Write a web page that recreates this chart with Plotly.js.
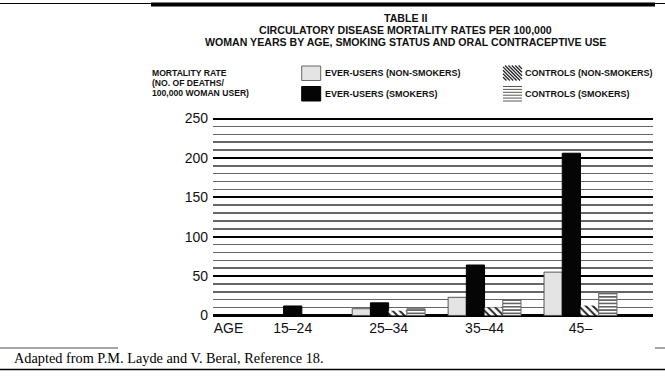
<!DOCTYPE html>
<html>
<head>
<meta charset="utf-8">
<script src="https://cdn.plot.ly/plotly-3.0.1.min.js"></script>
<style>html,body{margin:0;padding:0;background:#fff;}#chart{width:665px;height:376px;}</style>
</head>
<body>
<div id="chart"></div>
<script>
// ---- data ----
const ageLabels = ['15\u201324', '25\u201334', '35\u201344', '45\u2013'];
const axisWord = 'AGE';
const everUsersNonSmokers = [null, 8.5, 23, 55];
const everUsersSmokers = [12, 16, 64, 206];
const controlsNonSmokers = [null, 6, 10, 12.5];
const controlsSmokers = [null, 8.5, 20, 29.5];
const yTicks = [0, 50, 100, 150, 200, 250];
const titleLines = ['TABLE II', 'CIRCULATORY DISEASE MORTALITY RATES PER 100,000', 'WOMAN YEARS BY AGE, SMOKING STATUS AND ORAL CONTRACEPTIVE USE'];
const yTitleLines = ['MORTALITY RATE', '(NO. OF DEATHS/', '100,000 WOMAN USER)'];
const seriesNames = ['EVER-USERS (NON-SMOKERS)', 'EVER-USERS (SMOKERS)', 'CONTROLS (NON-SMOKERS)', 'CONTROLS (SMOKERS)'];
const sourceNote = 'Adapted from P.M. Layde and V. Beral, Reference 18.';

// ---- layout geometry ----
const L = 213, T = 117, PW = 440, PH = 200;
const px = x => (x - L) / PW;
const py = y => (T + PH - y) / PH;
const W = 0.19;
const xs = ageLabels.map((_, i) => i);
const SANS = 'Liberation Sans, Arial, Helvetica, sans-serif';
const SERIF = 'Liberation Serif, Times New Roman, serif';

const blackOffsets = xs.map(i =>
  (everUsersNonSmokers[i] == null && controlsNonSmokers[i] == null && controlsSmokers[i] == null) ? -W / 2 : -W);

const traces = [
  {type: 'bar', x: xs, y: everUsersNonSmokers, name: seriesNames[0], width: W, offset: -2 * W,
   marker: {color: '#e4e4e4', line: {color: '#555', width: 1}}},
  {type: 'bar', x: xs, y: everUsersSmokers, name: seriesNames[1], width: W, offset: blackOffsets,
   marker: {color: '#050505', line: {color: '#000', width: 1}}},
  {type: 'bar', x: xs, y: controlsNonSmokers, name: seriesNames[2], width: W, offset: 0,
   marker: {color: '#fff', line: {color: '#fff', width: 0},
            pattern: {shape: '\\', fgcolor: '#222', bgcolor: '#fff', size: 5, solidity: 0.4}}},
  {type: 'bar', x: xs, y: controlsSmokers, name: seriesNames[3], width: W, offset: W,
   marker: {color: '#fff', line: {color: '#666', width: 1},
            pattern: {shape: '-', fgcolor: '#333', bgcolor: '#fff', size: 3.3, solidity: 0.38}}}
];

// ---- decorations ----
const shapes = [];
function line(x0, y0, x1, y1, color, width) {
  shapes.push({type: 'line', xref: 'paper', yref: 'paper', x0: px(x0), y0: py(y0), x1: px(x1), y1: py(y1),
               line: {color: color, width: width}});
}
function rect(x0, y0, x1, y1, fill, lc, lw) {
  shapes.push({type: 'rect', xref: 'paper', yref: 'paper', x0: px(x0), y0: py(y0), x1: px(x1), y1: py(y1),
               fillcolor: fill, line: {color: lc, width: lw}});
}
// page rules
line(0, 3.5, 665, 3.5, '#000', 1);
rect(151, 2.5, 655, 6.5, '#000', '#000', 0);
line(0, 348, 118, 348, '#888', 1.5);
line(655, 348, 665, 348, '#888', 1.5);
line(0, 369.5, 665, 369.5, '#000', 1.5);

// legend swatches
rect(301.7, 66, 320.7, 80.5, '#e4e4e4', '#666', 1);
rect(301.7, 86.5, 320.7, 101, '#050505', '#000', 1);
(function hatch(x0, y0, x1, y1, step) {
  const h = y1 - y0;
  for (let c = x0 - h; c < x1; c += step) {
    const a = Math.max(0, x0 - c), b = Math.min(h, x1 - c);
    if (b - a > 0.5) line(c + a, y0 + a, c + b, y0 + b, '#222', 1.3);
  }
})(503, 65.5, 522, 80.5, 3.4);
for (let y = 86.5; y <= 101.2; y += 2.9) line(503, y, 522, y, '#444', 0.9);

// ---- annotations ----
const annotations = [];
const titleY = [18, 30.5, 42.5];
titleLines.forEach((t, i) => annotations.push({xref: 'paper', yref: 'paper', x: px(405), y: py(titleY[i]),
  xanchor: 'center', yanchor: 'middle', showarrow: false, text: t,
  font: {family: SANS, size: 10.6, weight: 'bold', color: '#111'}}));
const yTitleY = [73, 83, 93];
yTitleLines.forEach((t, i) => annotations.push({xref: 'paper', yref: 'paper', x: px(150), y: py(yTitleY[i]),
  xanchor: 'left', yanchor: 'middle', showarrow: false, text: t,
  font: {family: SANS, size: 8.6, weight: 'bold', color: '#111'}}));
const legPos = [[323, 73], [323, 93.5], [523, 73], [523, 93.5]];
seriesNames.forEach((t, i) => annotations.push({xref: 'paper', yref: 'paper', x: px(legPos[i][0]), y: py(legPos[i][1]),
  xanchor: 'left', yanchor: 'middle', showarrow: false, text: t,
  font: {family: SANS, size: 9, weight: 'bold', color: '#111'}}));
annotations.push({xref: 'paper', yref: 'paper', x: px(11.5), y: py(358), xanchor: 'left', yanchor: 'middle',
  showarrow: false, text: sourceNote, font: {family: SERIF, size: 14.3, color: '#000'}});

const layout = {
  width: 665, height: 376,
  margin: {l: L, r: 665 - L - PW, t: T, b: 376 - T - PH, pad: 0},
  paper_bgcolor: '#fff', plot_bgcolor: '#fff',
  barmode: 'overlay', showlegend: false,
  font: {family: SANS, color: '#000'},
  xaxis: {range: [-0.831, 3.756], tickvals: [-0.67].concat(xs), ticktext: [axisWord].concat(ageLabels),
          showgrid: false, zeroline: false, showline: false, ticks: '', ticklabelstandoff: 1,
          tickfont: {size: 14, family: SANS, color: '#111'}},
  yaxis: {range: [-2, 252], tickvals: yTicks, showgrid: true, gridcolor: '#000', gridwidth: 2,
          zeroline: true, zerolinecolor: '#000', zerolinewidth: 2.5, showline: false, ticks: '',
          ticklabelstandoff: 4,
          tickfont: {size: 14, family: SANS, color: '#111'},
          minor: {dtick: 10, tick0: 0, showgrid: true, gridcolor: '#666', gridwidth: 1.6, ticks: ''}},
  shapes: shapes,
  annotations: annotations
};

Plotly.newPlot('chart', traces, layout, {staticPlot: true, displayModeBar: false});
</script>
</body>
</html>
